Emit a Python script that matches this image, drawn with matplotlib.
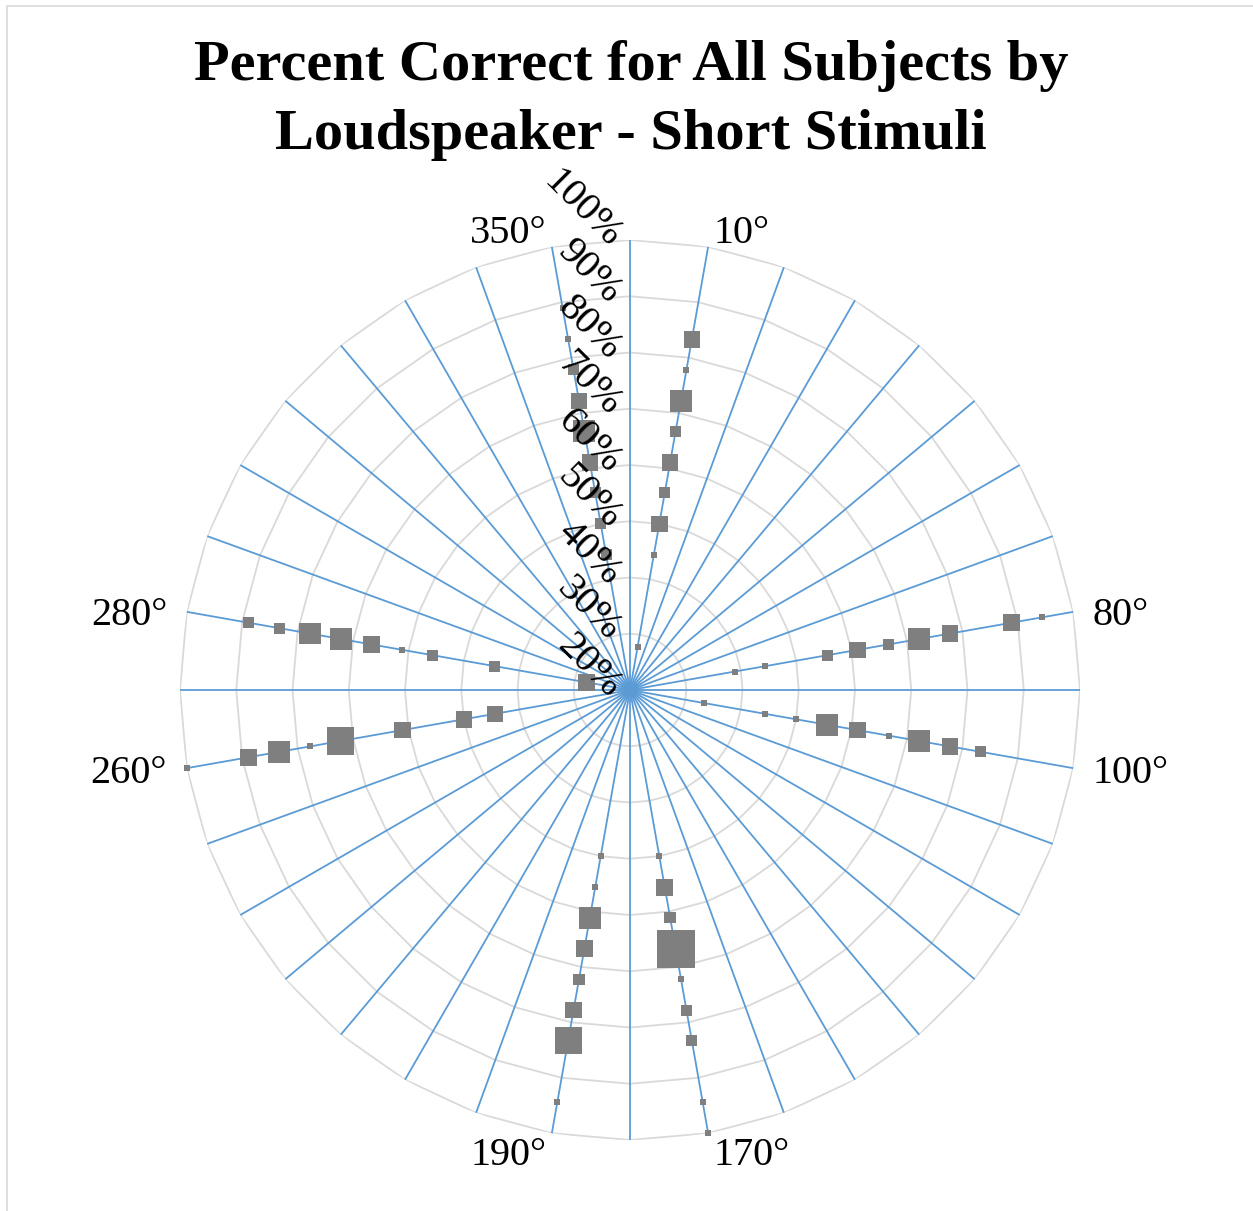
import numpy as np
import matplotlib.pyplot as plt
from matplotlib.patches import Rectangle

plt.rcParams['font.family'] = ['Liberation Serif', 'DejaVu Serif']

title = 'Percent Correct for All Subjects by\nLoudspeaker - Short Stimuli'

# radar has a spoke every 10 degrees, only the speakers used get a label
spoke_angles = np.arange(0, 360, 10)
ring_levels = [20, 30, 40, 50, 60, 70, 80, 90, 100]
ring_labels = ['20%', '30%', '40%', '50%', '60%', '70%', '80%', '90%', '100%']

speaker_angles = [10, 80, 100, 170, 190, 260, 280, 350]
speaker_labels = ['10°', '80°', '100°', '170°', '190°', '260°', '280°', '350°']

# percent correct per speaker, and number of subjects with that score
pct_10 = [27.8, 44.4, 50.0, 55.6, 61.1, 66.7, 72.2, 77.8, 83.3]
n_10 = [1, 1, 3, 2, 3, 2, 4, 1, 3]
pct_80 = [38.9, 44.4, 55.6, 61.1, 66.7, 72.2, 77.8, 88.9, 94.4]
n_80 = [1, 1, 2, 3, 2, 4, 3, 3, 1]
pct_100 = [33.3, 44.4, 50.0, 55.6, 61.1, 66.7, 72.2, 77.8, 83.3]
n_100 = [1, 1, 1, 4, 3, 1, 4, 3, 2]
pct_170 = [50.0, 55.6, 61.1, 66.7, 72.2, 77.8, 83.3, 94.4, 100.0]
n_170 = [1, 3, 2, 7, 1, 2, 2, 1, 1]
pct_190 = [50.0, 55.6, 61.1, 66.7, 72.2, 77.8, 83.3, 94.4]
n_190 = [1, 1, 4, 3, 2, 3, 5, 1]
pct_260 = [44.4, 50.0, 61.1, 72.2, 77.8, 83.3, 88.9, 100.0]
n_260 = [3, 3, 3, 5, 1, 4, 3, 1]
pct_280 = [27.8, 44.4, 55.6, 61.1, 66.7, 72.2, 77.8, 83.3, 88.9]
n_280 = [3, 2, 2, 1, 3, 4, 4, 2, 2]
pct_350 = [44.4, 50.0, 55.6, 61.1, 66.7, 72.2, 77.8, 83.3, 88.9]
n_350 = [2, 2, 2, 3, 4, 3, 2, 1, 1]

pcts = [pct_10, pct_80, pct_100, pct_170, pct_190, pct_260, pct_280, pct_350]
counts = [n_10, n_80, n_100, n_170, n_190, n_260, n_280, n_350]

grid_color = '#d9d9d9'
spoke_color = '#5b9bd5'
marker_color = '#7f7f7f'

fig = plt.figure(figsize=(12.53, 12.11), dpi=100)
ax = fig.add_axes([180 / 1253, 71 / 1211, 900 / 1253, 900 / 1211], projection='polar')
ax.set_theta_zero_location('N')
ax.set_theta_direction(-1)
ax.set_ylim(20, 100)
ax.grid(False)
ax.set_xticks([])
ax.set_yticks([])
ax.spines['polar'].set_visible(False)

# polygon rings (straight segments between spokes)
th_closed = np.deg2rad(np.append(spoke_angles, 360))
for lvl in ring_levels[1:]:
    ax.plot(th_closed, [lvl] * len(th_closed), color=grid_color, lw=1.3, zorder=1)

for a in spoke_angles:
    t = np.deg2rad(a)
    ax.plot([t, t], [20, 100], color=spoke_color, lw=1.3, zorder=2)

# marker side in px grows with the number of subjects
for a, p, n in zip(speaker_angles, pcts, counts):
    side_px = 5.3 * np.array(n) + 0.7
    ax.scatter(np.full(len(p), np.deg2rad(a)), p, marker='s', s=(side_px * 0.72) ** 2,
               color=marker_color, linewidths=0, zorder=3, clip_on=False)

# value labels along the top spoke
for lvl, lab in zip(ring_levels, ring_labels):
    ax.annotate(lab, (0, lvl), xytext=(-15 * 0.72, -2 * 0.72), textcoords='offset points',
                ha='right', va='center', rotation=-45, rotation_mode='anchor',
                fontsize=29, zorder=4, annotation_clip=False)

# speaker labels outside the outer ring
for a, lab in zip(speaker_angles, speaker_labels):
    t = np.deg2rad(a)
    s, c = np.sin(t), np.cos(t)
    ha = 'left' if s > 0 else 'right'
    if c > 0.5:
        va = 'baseline'
    elif c < -0.5:
        va = 'top'
    else:
        va = 'center_baseline'
    dx = np.sign(s) * max(20 * abs(s), 5)
    dy = 4 * c
    ax.annotate(lab, (t, 100), xytext=(dx * 0.72, dy * 0.72), textcoords='offset points',
                ha=ha, va=va, fontsize=29, annotation_clip=False)

fig.text(631 / 1253, 1 - 40 / 1211, title, ha='center', va='top',
         fontsize=42, fontweight='bold', linespacing=1.42)

# chart area border
fig.patches.append(Rectangle((7 / 1253, -0.1), 1.2, 1 - 6 / 1211 + 0.1,
                             transform=fig.transFigure, fill=False,
                             edgecolor=grid_color, lw=1.2))

fig.savefig('out.png', dpi=100, facecolor='white')
